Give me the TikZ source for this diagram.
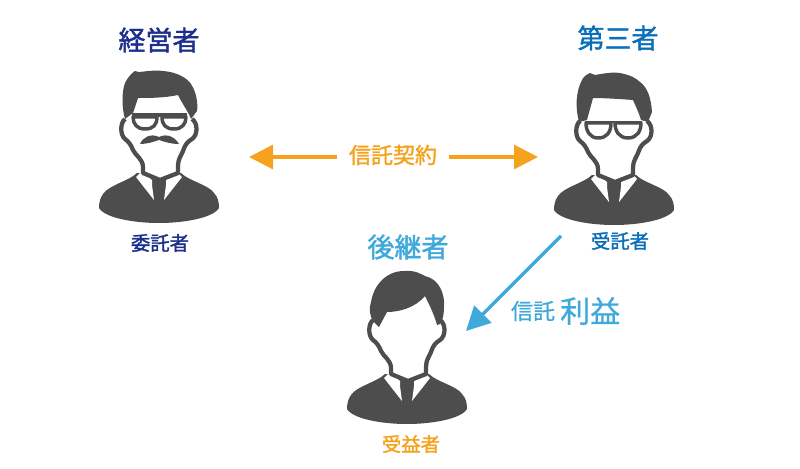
\documentclass[tikz,border=0pt]{standalone}
\usepackage{fontspec}
\usepackage{xcolor}
\usetikzlibrary{arrows.meta,positioning}
\newfontfamily\cjk[FakeBold=1.6]{Noto Sans CJK JP}
\newfontfamily\cjklight[FakeBold=0.8]{Noto Sans CJK JP}
\definecolor{navy}{HTML}{1D2F8C}
\definecolor{sea}{HTML}{0A6FB8}
\definecolor{sky}{HTML}{3FA9DC}
\definecolor{amber}{HTML}{F5A21E}
\definecolor{coal}{HTML}{4D4D4D}
\tikzset{
	pics/bust/.style={code={
		\fill[coal] (-22,-50) .. controls (-30,-42) and (-50,-38) .. (-56,-29) .. controls (-59,-25) and (-60,-20) .. (-60,-15) .. controls (-54,-5) and (-25,0) .. (0,0) .. controls (25,0) and (54,-5) .. (60,-15) .. controls (60,-21) and (59,-26) .. (55,-30) .. controls (50,-38) and (30,-42) .. (22,-50) -- cycle;
		\fill[white] (-23,-46) -- (-17,-52) -- (-7,-43) -- (-7,-38) -- (-5,-23) -- cycle;
		\fill[white] (23,-46) -- (17,-52) -- (7,-43) -- (7,-38) -- (5,-23) -- cycle;
		\draw[coal,line width=3.2pt,fill=white,line join=round] (-34,-104) .. controls (-39,-100) and (-39,-88) .. (-34,-84) .. controls (-30,-81) and (-28,-78) .. (-26,-73) .. controls (-24,-68) and (-16,-64) .. (-16,-56) -- (-16,-50) -- (1,-43) -- (19,-50) -- (19,-57) .. controls (19,-64) and (22,-67) .. (24,-72) .. controls (26,-78) and (28,-81) .. (33,-84) .. controls (39,-88) and (39,-100) .. (33,-104);
	}},
	pics/hairyoung/.style={code={
		\fill[coal] (-28,-97) -- (-33,-102) .. controls (-38,-108) and (-38,-116) .. (-36,-122) .. controls (-33,-140) and (-20,-153) .. (-3,-153) .. controls (8,-154) and (14,-150) .. (18,-148) .. controls (32,-145) and (38,-130) .. (37,-118) .. controls (37,-110) and (36,-104) .. (33,-100) -- (30,-99) .. controls (27,-110) and (22,-120) .. (18,-128) .. controls (8,-116) and (-8,-112) .. (-20,-112) -- cycle;
	}},
	pics/hairboss/.style={code={
		\fill[coal] (-24,-152) -- (-20,-151) .. controls (-10,-152) and (-4,-153) .. (4,-152) .. controls (18,-151) and (28,-145) .. (32,-139) .. controls (38,-130) and (39,-118) .. (38,-112) -- (32,-104) .. controls (30,-110) and (24,-118) .. (19,-128) .. controls (5,-125) and (-10,-125) .. (-21,-125) -- (-26,-110) -- (-34,-104) .. controls (-38,-118) and (-37,-135) .. (-33,-142) .. controls (-30,-147) and (-27,-150) .. (-24,-152) -- cycle;
	}},
	pics/hairthird/.style={code={
		\fill[coal] (-24,-152) -- (-19,-150) .. controls (-8,-152) and (0,-153) .. (6,-152) .. controls (16,-150) and (22,-147) .. (26,-143) .. controls (33,-138) and (37,-128) .. (38,-113) -- (34,-103) -- (27,-105) .. controls (25,-112) and (22,-118) .. (19,-125) .. controls (6,-126) and (-10,-127) .. (-21,-127) -- (-27,-105) -- (-35,-103) .. controls (-39,-118) and (-38,-134) .. (-32,-145) .. controls (-30,-149) and (-27,-151) .. (-24,-152) -- cycle;
	}},
	pics/specsboss/.style={code={
		\draw[coal,line width=2.6pt,fill=white,line join=round] (-26,-106) -- (-2,-106) .. controls (-2,-98) and (-6,-94) .. (-14,-94) .. controls (-22,-94) and (-26,-99) .. (-26,-106) -- cycle;
		\draw[coal,line width=2.6pt,fill=white,line join=round] (3,-106) -- (27,-106) .. controls (27,-99) and (23,-94) .. (15,-94) .. controls (7,-94) and (3,-98) .. (3,-106) -- cycle;
		\draw[coal,line width=3.2pt] (-27,-108) -- (28,-108);
		\fill[coal] (-19,-79) .. controls (-16,-86) and (-8,-90) .. (0,-86) .. controls (8,-90) and (16,-86) .. (20,-79) .. controls (12,-79) and (6,-81) .. (0,-83) .. controls (-6,-81) and (-12,-79) .. (-19,-79) -- cycle;
	}},
	pics/specsthird/.style={code={
		\draw[coal,line width=2.6pt,fill=white,line join=round] (-28,-102) -- (-3,-102) .. controls (-3,-93) and (-7,-87) .. (-16,-87) .. controls (-24,-87) and (-28,-94) .. (-28,-102) -- cycle;
		\draw[coal,line width=2.6pt,fill=white,line join=round] (1,-102) -- (27,-102) .. controls (27,-94) and (23,-87) .. (14,-87) .. controls (5,-87) and (1,-94) .. (1,-102) -- cycle;
		\draw[coal,line width=2pt] (-29,-103) -- (28,-103);
	}}
}
\begin{document}
\begin{tikzpicture}[x=0.75pt,y=-0.75pt,% one unit is one pixel of the reference
	every node/.style={
		align=center,
		inner sep=0pt,
		font=\cjk
		},
		title/.style={font=\cjk\fontsize{20.25pt}{24pt}\selectfont},
		role/.style={font=\cjk\fontsize{14.5pt}{17pt}\selectfont},
		every edge/.style={draw,line width=2.4pt,-{Triangle[length=18pt,width=18pt]}}
		]
	\useasboundingbox (0,0) rectangle (800,468);
	% the three people
	\coordinate (Boss) at (159,223);
	\coordinate (Third) at (614,225);
	\coordinate (Heir) at (407,424);
	\pic at (Boss) {bust};
	\pic at (Boss) {hairboss};
	\pic at (Boss) {specsboss};
	\pic at (Third) {bust};
	\pic at (Third) {hairthird};
	\pic at (Third) {specsthird};
	\pic at (Heir) {bust};
	\pic at (Heir) {hairyoung};
	% names above, roles below
	\node[title,text=navy](BossName) at (159,40){経営者};
	\node[title,text=sea](ThirdName) at (618,38){第三者};
	\node[title,text=sky](HeirName) at (408,247){後継者};
	\node[role,text=navy](BossRole) at (160,243){委託者};
	\node[role,text=sea](ThirdRole) at (620,241){受託者};
	\node[role,text=amber](HeirRole) at (411,444){受益者};
	% contract between the two
	\node[text=amber,inner xsep=8.5pt,font=\cjk\fontsize{16.5pt}{20pt}\selectfont](Contract) at (393,155){信託契約};
	\coordinate (ContractL) at (249,157);
	\coordinate (ContractR) at (538,157);
	\path[amber]
	(Contract.west |- ContractL)edge (ContractL)
	(Contract.east |- ContractR)edge (ContractR)
	;
	% benefit going down to the heir
	\node[text=sky,font=\cjklight\fontsize{16.5pt}{20pt}\selectfont](Trust) at (533,311){信託};
	\node[text=sky,font=\cjklight\fontsize{22.5pt}{26pt}\selectfont](Gain)[right=3.5pt of Trust]{利益};
	\coordinate (BenefitA) at (561,236);
	\coordinate (BenefitB) at (466,331);
	\path[sky]
	(BenefitA)edge (BenefitB)
	;
\end{tikzpicture}
\end{document}
